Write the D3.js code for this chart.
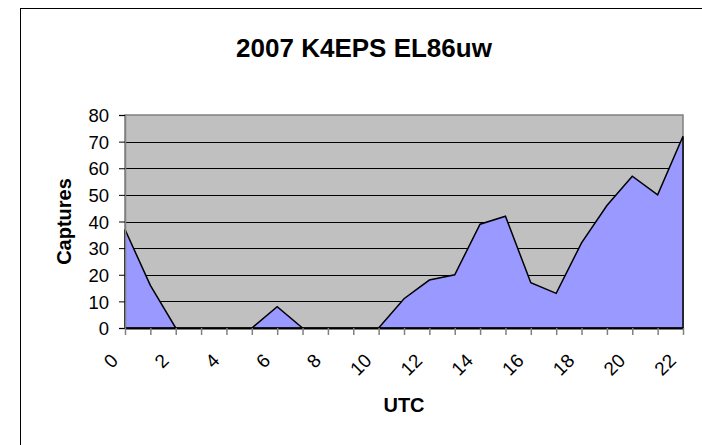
<!DOCTYPE html>
<html>
<head>
<meta charset="utf-8">
<script src="https://cdn.jsdelivr.net/npm/d3@7"></script>
<style>
  html, body { margin: 0; background: #fff; overflow: hidden; }
  svg { display: block; }
  svg text { font-family: "Liberation Sans", Arial, sans-serif; fill: #000; }
</style>
</head>
<body>
<div class="chart"></div>
<script>
// 2007 K4EPS EL86uw - captures per UTC hour (area chart)

var hours = ["0", "1", "2", "3", "4", "5", "6", "7", "8", "9", "10", "11",
             "12", "13", "14", "15", "16", "17", "18", "19", "20", "21", "22"];
var captures = [37, 16, 0, 0, 0, 0, 8, 0, 0, 0, 0, 11,
                18, 20, 39, 42, 17, 13, 32, 46, 57, 50, 72];
var yTicks = [0, 10, 20, 30, 40, 50, 60, 70, 80];

var svgWidth = 702;
var svgHeight = 445;

var plot = { left: 125, right: 683, top: 115, bottom: 328 };

var data = hours.map(function(h, i) {
    return { hour: h, value: captures[i] };
});

var svg = d3.select(".chart")
    .append("svg")
    .attr("width", svgWidth)
    .attr("height", svgHeight);

// chart border (runs off the right / bottom of the window)
svg.append("rect")
    .attr("x", 20.5)
    .attr("y", 8.5)
    .attr("width", 720)
    .attr("height", 460)
    .attr("fill", "#fff")
    .attr("stroke", "#000")
    .attr("stroke-width", 1);

var xScale = d3.scalePoint()
    .domain(hours)
    .range([plot.left, plot.right]);

var yScale = d3.scaleLinear()
    .domain([0, 80])
    .range([plot.bottom, plot.top]);

// plot area
svg.append("rect")
    .attr("x", plot.left)
    .attr("y", plot.top)
    .attr("width", plot.right - plot.left)
    .attr("height", plot.bottom - plot.top)
    .attr("fill", "#c0c0c0")
    .attr("stroke", "#808080")
    .attr("stroke-width", 1.5);

// gridlines
svg.append("g")
    .selectAll("line")
    .data(yTicks.filter(function(t) { return t > 0 && t < 80; }))
    .enter()
    .append("line")
    .attr("x1", plot.left)
    .attr("x2", plot.right)
    .attr("y1", function(d) { return Math.round(yScale(d)) + 0.5; })
    .attr("y2", function(d) { return Math.round(yScale(d)) + 0.5; })
    .attr("stroke", "#000")
    .attr("stroke-width", 1);

// area series
var area = d3.area()
    .x(function(d) { return xScale(d.hour); })
    .y0(yScale(0))
    .y1(function(d) { return yScale(d.value); });

svg.append("path")
    .datum(data)
    .attr("d", area)
    .attr("fill", "#9999ff")
    .attr("stroke", "#000")
    .attr("stroke-width", 1.5)
    .attr("stroke-linejoin", "miter");

// y axis
var leftAxis = d3.axisLeft(yScale)
    .tickValues(yTicks)
    .tickSize(6)
    .tickPadding(10);

var yAxis = svg.append("g")
    .attr("transform", "translate(" + plot.left + ",0)")
    .call(leftAxis);
yAxis.select(".domain").attr("stroke", "#808080").attr("stroke-width", 1.5);
yAxis.selectAll(".tick line").attr("stroke", "#000");
yAxis.selectAll("text")
    .style("font-size", "18.5px")
    .attr("dy", "0.36em");

// x axis
var bottomAxis = d3.axisBottom(xScale)
    .tickSize(7)
    .tickSizeOuter(0)
    .tickFormat(function(d) { return (+d % 2 === 0) ? d : ""; });

var xAxis = svg.append("g")
    .attr("transform", "translate(0," + plot.bottom + ")")
    .call(bottomAxis);
xAxis.select(".domain").attr("stroke", "#000").attr("stroke-width", 2);
xAxis.selectAll(".tick line").attr("stroke", "#808080").attr("stroke-width", 1.5);
xAxis.selectAll("text")
    .style("font-size", "19px")
    .attr("text-anchor", "end")
    .attr("x", 0)
    .attr("y", 0)
    .attr("dy", "0.35em")
    .attr("transform", "translate(-11,29) rotate(-45)");

// title
svg.append("text")
    .attr("x", 364)
    .attr("y", 57)
    .attr("text-anchor", "middle")
    .style("font-size", "26px")
    .style("font-weight", "bold")
    .text("2007 K4EPS EL86uw");

// axis titles
svg.append("text")
    .attr("transform", "translate(71," + ((plot.top + plot.bottom) / 2) + ") rotate(-90)")
    .attr("text-anchor", "middle")
    .style("font-size", "20px")
    .style("font-weight", "bold")
    .text("Captures");

svg.append("text")
    .attr("x", (plot.left + plot.right) / 2)
    .attr("y", 412)
    .attr("text-anchor", "middle")
    .style("font-size", "20px")
    .style("font-weight", "bold")
    .text("UTC");
</script>
</body>
</html>
